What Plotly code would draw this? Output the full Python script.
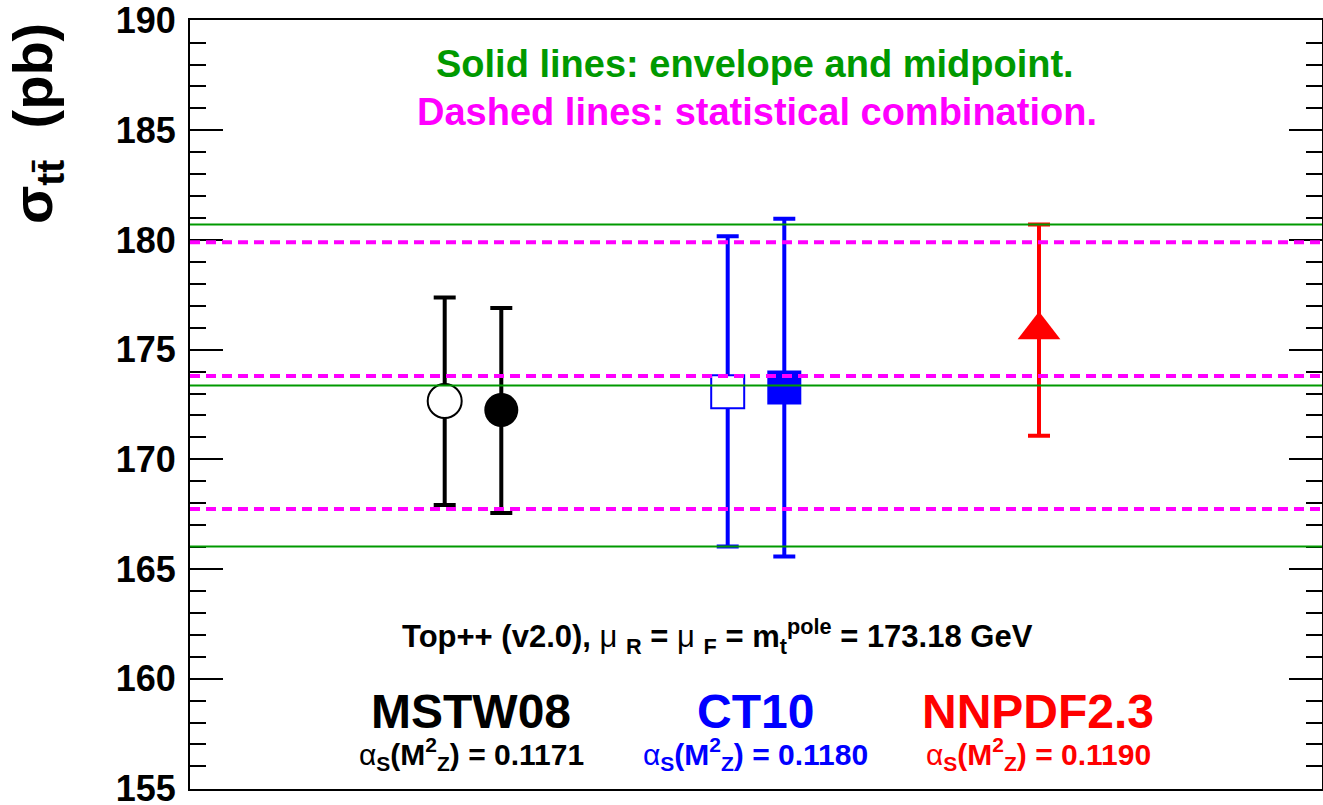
import plotly.graph_objects as go

# ---------------- data ----------------
pdf_sets = ["MSTW08", "CT10", "NNPDF2.3"]
alpha_s_values = ["0.1171", "0.1180", "0.1190"]
pdf_colors = ["#000000", "#0000FF", "#FF0000"]

point_names = ["MSTW08 (open)", "MSTW08 (filled)", "CT10 (open)", "CT10 (filled)", "NNPDF2.3"]
x_pos = [0.9, 1.1, 1.9, 2.1, 3.0]
sigma = [172.66, 172.25, 173.08, 173.28, 175.90]
sigma_up = [177.38, 176.90, 180.17, 180.97, 180.71]
sigma_down = [167.92, 167.55, 166.03, 165.57, 171.08]

envelope_lines = [180.71, 173.37, 166.03]   # solid green: envelope and midpoint
stat_lines = [179.90, 173.80, 167.74]       # dashed magenta: statistical combination

y_ticks = [155, 160, 165, 170, 175, 180, 185, 190]

# ---------------- styles ----------------
W, H = 1323, 805
L, R, T, B = 190, 1, 20, 16
PW = W - L - R
PH = H - T - B
FONT = "Liberation Sans"
GREEN = "#009900"
MAGENTA = "#FF00FF"


def px(xp):
    return (xp - L) / PW


def py(yp):
    return (H - B - yp) / PH


marker_styles = [
    dict(symbol="circle", size=34, color="white", line=dict(color="#000000", width=2)),
    dict(symbol="circle", size=34, color="#000000", line=dict(color="#000000", width=0)),
    dict(symbol="square", size=33, color="white", line=dict(color="#0000FF", width=2)),
    dict(symbol="square", size=34, color="#0000FF", line=dict(color="#0000FF", width=0)),
    dict(symbol="triangle-up", size=37, color="#FF0000", line=dict(color="#FF0000", width=0)),
]
bar_colors = ["#000000", "#000000", "#0000FF", "#0000FF", "#FF0000"]

fig = go.Figure()

for i in range(len(x_pos)):
    fig.add_trace(go.Scatter(
        x=[x_pos[i]], y=[sigma[i]],
        mode="markers",
        name=point_names[i],
        marker=marker_styles[i],
        error_y=dict(
            type="data", symmetric=False,
            array=[sigma_up[i] - sigma[i]],
            arrayminus=[sigma[i] - sigma_down[i]],
            color=bar_colors[i], thickness=4, width=11,
        ),
        showlegend=False,
    ))

shapes = []
for v in envelope_lines:
    shapes.append(dict(type="line", xref="paper", yref="y", x0=0, x1=1, y0=v, y1=v,
                       line=dict(color=GREEN, width=2), layer="above"))
for v in stat_lines:
    shapes.append(dict(type="line", xref="paper", yref="y", x0=0, x1=1, y0=v, y1=v,
                       line=dict(color=MAGENTA, width=4, dash="10px,6px"), layer="above"))

NORMAL = '<span style="font-weight:normal">'

annotations = [
    dict(text="Solid lines: envelope and midpoint.", x=px(755), y=py(64),
         font=dict(size=38, color=GREEN, family=FONT, weight="bold")),
    dict(text="Dashed lines: statistical combination.", x=px(757), y=py(112),
         font=dict(size=38, color=MAGENTA, family=FONT, weight="bold")),
    dict(text="Top++ (v2.0), " + NORMAL + "μ</span> <sub>R</sub> = " + NORMAL + "μ</span> <sub>F</sub>"
              " = m<sub>t</sub><sup>pole</sup> = 173.18 GeV",
         x=px(717), y=py(636),
         font=dict(size=31, color="#000000", family=FONT, weight="bold")),
    dict(text="σ<sub>tt̄</sub>  (pb)", textangle=-90, x=px(36), y=py(124),
         font=dict(size=56, color="#000000", family=FONT, weight="bold")),
]
label_x = [471, 755, 1038]
for name, a_s, col, xc in zip(pdf_sets, alpha_s_values, pdf_colors, label_x):
    annotations.append(dict(text=name, x=px(xc), y=py(711),
                            font=dict(size=48, color=col, family=FONT, weight="bold")))
    annotations.append(dict(text=NORMAL + "α</span><sub>S</sub>(M<sup>2</sup><sub>Z</sub>) = " + a_s,
                            x=px(xc), y=py(754),
                            font=dict(size=30, color=col, family=FONT, weight="bold")))
for a in annotations:
    a.update(xref="paper", yref="paper", xanchor="center", yanchor="middle", showarrow=False)

fig.update_layout(
    width=W, height=H,
    margin=dict(l=L, r=R, t=T, b=B, pad=0, autoexpand=False),
    paper_bgcolor="white", plot_bgcolor="white",
    shapes=shapes, annotations=annotations,
    showlegend=False,
    font=dict(family=FONT, color="#000000"),
    xaxis=dict(range=[0, 4], showgrid=False, zeroline=False, showticklabels=False,
               ticks="", showline=True, linecolor="#000000", linewidth=2, mirror=True,
               automargin=False),
    yaxis=dict(range=[154.97, 190.03], tickvals=y_ticks, ticktext=[str(v) for v in y_ticks],
               showgrid=False, zeroline=False,
               ticks="inside", ticklen=33, tickwidth=2, tickcolor="#000000",
               minor=dict(dtick=1, ticks="inside", ticklen=16, tickwidth=2, tickcolor="#000000",
                          showgrid=False),
               showline=True, linecolor="#000000", linewidth=2, mirror="ticks",
               tickfont=dict(size=36, family=FONT, color="#000000", weight="bold"),
               ticklabelstandoff=5, ticklabeloverflow="allow", automargin=False),
)

fig.write_html("out.html", config={"displayModeBar": False},
               post_script="document.body.style.margin='0px';document.body.style.overflow='hidden';")
